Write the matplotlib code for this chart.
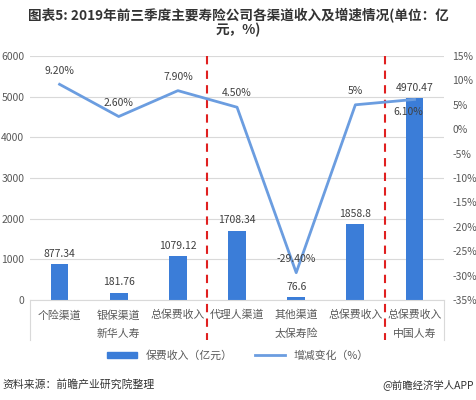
import matplotlib
matplotlib.use("Agg")
import matplotlib.pyplot as plt
from matplotlib.lines import Line2D
from matplotlib.patches import Patch

plt.rcParams['font.family'] = ['Noto Sans CJK SC', 'DejaVu Sans']

# datos
canales = ["个险渠道", "银保渠道", "总保费收入", "代理人渠道", "其他渠道", "总保费收入", "总保费收入"]
grupos = ["新华人寿", "太保寿险", "中国人寿"]
grupo_tam = [3, 3, 1]
ingresos = [877.34, 181.76, 1079.12, 1708.34, 76.6, 1858.8, 4970.47]
ingresos_txt = ["877.34", "181.76", "1079.12", "1708.34", "76.6", "1858.8", "4970.47"]
cambio = [9.2, 2.6, 7.9, 4.5, -29.4, 5, 6.1]
cambio_txt = ["9.20%", "2.60%", "7.90%", "4.50%", "-29.40%", "5%", "6.10%"]

color_barra = "#3b7dd8"
color_linea = "#6b9de0"
gris = "#595959"

fig = plt.figure(figsize=(4.76, 4.0), dpi=100)
ax = fig.add_axes([0.063, 0.25, 0.87, 0.61])
ax2 = ax.twinx()

x = list(range(len(canales)))
ax.bar(x, ingresos, width=0.3, color=color_barra, zorder=2)
for xi, v, t in zip(x, ingresos, ingresos_txt):
    ax.text(xi, v + 130, t, ha="center", va="bottom", fontsize=7.5, color="#404040")

ax.set_xlim(-0.5, len(canales) - 0.5)
ax.set_ylim(0, 6000)
ax.set_yticks(range(0, 6001, 1000))
ax.grid(axis="y", color="#d9d9d9", linewidth=0.8, zorder=0)
ax.set_axisbelow(True)
for s in ["top", "right", "left"]:
    ax.spines[s].set_visible(False)
ax.spines["bottom"].set_color("#d9d9d9")
ax.tick_params(axis="y", length=0, labelsize=7.5, colors=gris, pad=4)
ax.tick_params(axis="x", length=0, pad=7)
ax.set_xticks(x)
ax.set_xticklabels(canales, fontsize=7.8, color=gris)

ax2.plot(x, cambio, color=color_linea, linewidth=2, zorder=3)
ax2.set_ylim(-35, 15)
ax2.set_yticks(range(-35, 16, 5))
ax2.set_yticklabels([f"{v}%" for v in range(-35, 16, 5)])
ax2.tick_params(axis="y", length=0, labelsize=7.5, colors=gris, pad=6)
for s in ["top", "right", "left", "bottom"]:
    ax2.spines[s].set_visible(False)
for xi, v, t in zip(x, cambio, cambio_txt):
    if t == "6.10%":
        ax2.text(xi - 0.1, v - 1.5, t, ha="center", va="top", fontsize=7.5, color="#404040")
    else:
        ax2.text(xi, v + 1.8, t, ha="center", va="bottom", fontsize=7.5, color="#404040")

# etiquetas de grupo y separadores
trans = ax.get_xaxis_transform()
inicio = 0
for g, n in zip(grupos, grupo_tam):
    centro = inicio + (n - 1) / 2
    ax.text(centro, -0.138, g, transform=trans, ha="center", va="center", fontsize=7.8, color=gris)
    inicio += n
for xs in [-0.5, 6.5]:
    ax.plot([xs, xs], [0, -0.165], transform=trans, color="#d9d9d9", linewidth=0.8, clip_on=False)
for xs in [2.5, 5.5]:
    ax.plot([xs, xs], [1.0, -0.165], transform=trans, color="#e02020", linewidth=1.5,
            linestyle=(0, (4, 3)), clip_on=False, zorder=5)

handles = [Patch(color=color_barra), Line2D([0], [0], color=color_linea, linewidth=2)]
fig.legend(handles, ["保费收入（亿元）", "增减变化（%）"], loc="center", bbox_to_anchor=(0.5, 0.112),
           ncol=2, frameon=False, fontsize=7.8, handlelength=2.8, handleheight=0.5, columnspacing=2,
           labelcolor=gris)

fig.text(0.5, 0.962, "图表5: 2019年前三季度主要寿险公司各渠道收入及增速情况(单位：亿", ha="center",
         va="center", fontsize=9.8, fontweight="bold", color="#333333")
fig.text(0.5, 0.924, "元，%)", ha="center", va="center", fontsize=9.8, fontweight="bold", color="#333333")
fig.text(0.005, 0.038, "资料来源：前瞻产业研究院整理", ha="left", va="center", fontsize=7.8, color="#333333")
fig.text(0.995, 0.038, "@前瞻经济学人APP", ha="right", va="center", fontsize=7.5, color="#333333")

fig.savefig("out.png", dpi=100)
